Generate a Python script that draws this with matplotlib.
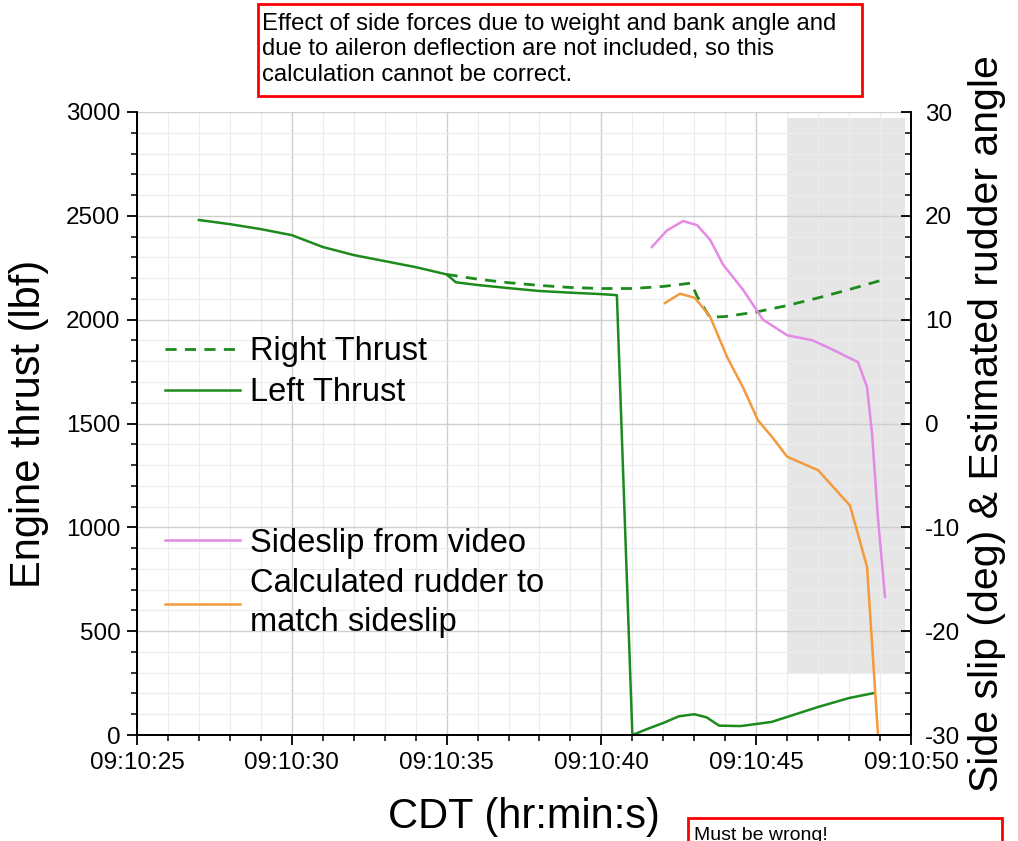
"""Engine thrust vs. sideslip / estimated rudder angle, with two red-box notes."""

import matplotlib
matplotlib.use("Agg")
import matplotlib.pyplot as plt
from matplotlib.patches import Rectangle
from matplotlib.ticker import FuncFormatter, MultipleLocator

plt.rcParams["font.family"] = ["Liberation Sans", "DejaVu Sans"]
plt.rcParams["axes.unicode_minus"] = False

# time is seconds after 09:10:00 CDT
left_t = [27, 28, 29, 30, 31, 32, 33, 34, 35, 35.3, 36, 37, 38, 39, 40, 40.5,
          41.0, 41.5, 42, 42.5, 43.0, 43.4, 43.8, 44.5, 45, 45.5, 46, 47, 48, 48.8]
left_thrust = [2480, 2460, 2436, 2407, 2350, 2311, 2282, 2253, 2218, 2180, 2167,
               2152, 2138, 2130, 2123, 2118, 0, 30, 58, 90, 100, 85, 45, 43, 53,
               63, 87, 135, 178, 202]

right_t = [35, 36, 37, 38, 39, 40, 41, 42, 42.9, 43.1, 43.5, 44, 45, 46, 47, 48, 49.05]
right_thrust = [2218, 2195, 2178, 2165, 2155, 2150, 2150, 2160, 2176, 2110, 2012,
                2015, 2037, 2068, 2105, 2145, 2190]

slip_t = [41.63, 42.12, 42.64, 43.09, 43.51, 43.93, 44.57, 45.22, 46.0, 46.83,
          47.48, 48.29, 48.58, 48.74, 48.93, 49.16]
sideslip = [17.0, 18.6, 19.5, 19.1, 17.7, 15.3, 12.9, 10.0, 8.5, 8.0, 7.1, 5.9,
            3.5, -0.9, -9.0, -16.7]

rudder_t = [42.05, 42.54, 43.02, 43.51, 44.06, 44.57, 45.06, 45.54, 46.0, 47.0,
            48.03, 48.58, 48.93]
rudder = [11.6, 12.5, 12.1, 10.3, 6.4, 3.5, 0.3, -1.4, -3.2, -4.5, -7.9, -13.8, -29.8]

# shaded window (x in s, y in lbf)
shade_t = [46.0, 49.8]
shade_lo, shade_hi = 300, 2970

GREEN = "#1d8a1d"
VIOLET = "#e48ae4"
ORANGE = "#f39a3c"

fig = plt.figure(figsize=(10.18, 8.41), dpi=100)
ax = fig.add_axes([137 / 1018, 1 - 735 / 841, 774 / 1018, 623 / 841])
ax2 = ax.twinx()

ax.fill_between(shade_t, shade_lo, shade_hi, color="#e2e2e2", alpha=0.85,
                lw=0, zorder=0.3)
ax.plot(right_t, right_thrust, "--", color=GREEN, lw=2, dashes=(4, 3),
        label="Right Thrust")
ax.plot(left_t, left_thrust, "-", color=GREEN, lw=1.8, label="Left Thrust")
ax2.plot(slip_t, sideslip, color=VIOLET, lw=1.8, label="Sideslip from video")
ax2.plot(rudder_t, rudder, color=ORANGE, lw=1.8,
         label="Calculated rudder to\nmatch sideslip")

ax.set_xlim(25, 50)
ax.set_ylim(0, 3000)
ax2.set_ylim(-30, 30)

ax.xaxis.set_major_locator(MultipleLocator(5))
ax.xaxis.set_minor_locator(MultipleLocator(1))
ax.xaxis.set_major_formatter(FuncFormatter(lambda v, p: f"09:10:{int(round(v)):02d}"))
ax.yaxis.set_major_locator(MultipleLocator(500))
ax.yaxis.set_minor_locator(MultipleLocator(100))
ax2.yaxis.set_major_locator(MultipleLocator(10))
ax2.yaxis.set_minor_locator(MultipleLocator(2))

ax.set_axisbelow(True)
ax.grid(True, which="major", color="#cfcfcf", lw=1.0)
ax.grid(True, which="minor", color="#ececec", lw=0.8)

for a in (ax, ax2):
    a.spines["top"].set_visible(False)
    for s in a.spines.values():
        s.set_linewidth(1.3)
ax.tick_params(which="major", direction="out", length=7, width=1.3,
               labelsize=17.5, pad=5)
ax.tick_params(which="minor", direction="out", length=4, width=1.1)
ax2.tick_params(which="major", direction="in", length=7, width=1.3,
                labelsize=17.5, pad=10)
ax2.tick_params(which="minor", direction="in", length=4, width=1.1)

ax.set_xlabel("CDT (hr:min:s)", fontsize=30, labelpad=17)
ax.set_ylabel("Engine thrust (lbf)", fontsize=30, labelpad=12)
ax2.set_ylabel("Side slip (deg) & Estimated rudder angle", fontsize=29.5,
               labelpad=6)

leg1 = ax.legend(loc="upper left", bbox_to_anchor=(0.036, 0.64), frameon=False,
                 fontsize=23.5, handlelength=2.3, handletextpad=0.3,
                 labelspacing=0.3, borderaxespad=0, borderpad=0)
leg2 = ax2.legend(loc="upper left", bbox_to_anchor=(0.036, 0.333), frameon=False,
                  fontsize=23.5, handlelength=2.3, handletextpad=0.3,
                  labelspacing=0.3, borderaxespad=0, borderpad=0)
for t in leg2.get_texts():
    t.set_linespacing(1.3)

# red-box notes
fig.patches.append(Rectangle((258 / 1018, 1 - 96 / 841), 604 / 1018, 92 / 841,
                             transform=fig.transFigure, fill=False,
                             edgecolor="red", lw=2))
fig.text(262 / 1018, 1 - 13 / 841,
         "Effect of side forces due to weight and bank angle and\n"
         "due to aileron deflection are not included, so this\n"
         "calculation cannot be correct.",
         ha="left", va="top", fontsize=17.2, linespacing=1.2)
fig.patches.append(Rectangle((688 / 1018, -10 / 841), 314 / 1018, 33 / 841,
                             transform=fig.transFigure, fill=False,
                             edgecolor="red", lw=2))
fig.text(694 / 1018, 1 - 827 / 841, "Must be wrong!", ha="left", va="top",
         fontsize=14)

fig.savefig("out.png", dpi=100)
